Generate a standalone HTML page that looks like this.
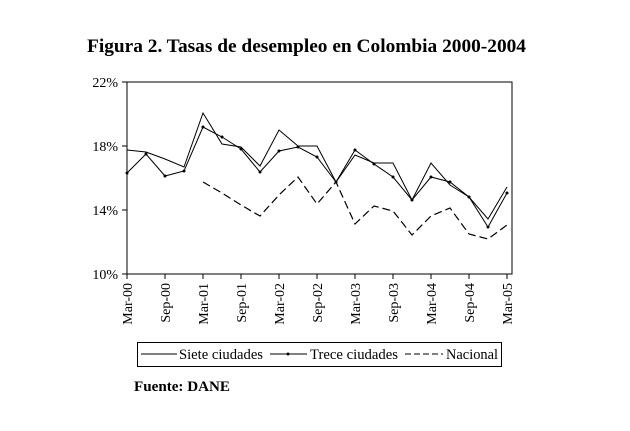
<!DOCTYPE html>
<html><head><meta charset="utf-8"><style>
body{margin:0;background:#fff;width:630px;height:431px;overflow:hidden}
svg{display:block}
text{font-family:"Liberation Serif",serif;fill:#000}
</style></head><body>
<svg width="630" height="431" viewBox="0 0 630 431">
<text x="87" y="52" font-size="19" font-weight="bold" textLength="439" lengthAdjust="spacingAndGlyphs">Figura 2. Tasas de desempleo en Colombia 2000-2004</text>
<g stroke="#000" stroke-width="1" fill="none">
<rect x="127" y="82" width="385" height="192"/>
<line x1="122" y1="82" x2="127" y2="82"/>
<line x1="122" y1="146" x2="127" y2="146"/>
<line x1="122" y1="210" x2="127" y2="210"/>
<line x1="122" y1="274" x2="127" y2="274"/>
<path d="M127 274v5M165 274v5M203 274v5M241 274v5M279 274v5M317 274v5M355 274v5M393 274v5M431 274v5M469 274v5M507 274v5"/>
</g>
<g font-size="14" text-anchor="end">
<text x="118" y="87">22%</text><text x="118" y="151">18%</text><text x="118" y="215">14%</text><text x="118" y="279">10%</text>
</g>
<g font-size="14" text-anchor="end">
<text transform="translate(132,283) rotate(-90)">Mar-00</text>
<text transform="translate(170,283) rotate(-90)">Sep-00</text>
<text transform="translate(208,283) rotate(-90)">Mar-01</text>
<text transform="translate(246,283) rotate(-90)">Sep-01</text>
<text transform="translate(284,283) rotate(-90)">Mar-02</text>
<text transform="translate(322,283) rotate(-90)">Sep-02</text>
<text transform="translate(360,283) rotate(-90)">Mar-03</text>
<text transform="translate(398,283) rotate(-90)">Sep-03</text>
<text transform="translate(436,283) rotate(-90)">Mar-04</text>
<text transform="translate(474,283) rotate(-90)">Sep-04</text>
<text transform="translate(512,283) rotate(-90)">Mar-05</text>
</g>
<g fill="none" stroke="#000" stroke-width="1">
<polyline points="127,150 146,152 165,159 184,167 203,113 222,144 241,147 260,166 279,130 298,146 317,146 336,182 355,155 374,163 393,163 412,200 431,163 450,185 469,197 488,219 507,187"/>
<polyline points="127,173 146,154 165,176 184,171 203,127 222,137 241,149 260,172 279,151 298,147 317,157 336,182 355,150 374,164 393,177 412,200 431,177 450,182 469,197 488,227 507,193"/>
<polyline stroke-dasharray="8,4" stroke-width="1.2" points="203,182 222,193 241,205 260,216 279,195 298,177 317,204 336,182 355,224 374,206 393,211 412,235 431,216 450,208 469,234 488,239 507,225"/>
</g>
<g fill="#000">
<circle cx="127" cy="173" r="1.5"/><circle cx="146" cy="154" r="1.5"/><circle cx="165" cy="176" r="1.5"/><circle cx="184" cy="171" r="1.5"/><circle cx="203" cy="127" r="1.5"/><circle cx="222" cy="137" r="1.5"/><circle cx="241" cy="149" r="1.5"/><circle cx="260" cy="172" r="1.5"/><circle cx="279" cy="151" r="1.5"/><circle cx="298" cy="147" r="1.5"/><circle cx="317" cy="157" r="1.5"/><circle cx="336" cy="182" r="1.5"/><circle cx="355" cy="150" r="1.5"/><circle cx="374" cy="164" r="1.5"/><circle cx="393" cy="177" r="1.5"/><circle cx="412" cy="200" r="1.5"/><circle cx="431" cy="177" r="1.5"/><circle cx="450" cy="182" r="1.5"/><circle cx="469" cy="197" r="1.5"/><circle cx="488" cy="227" r="1.5"/><circle cx="507" cy="193" r="1.5"/>
</g>
<rect x="137.5" y="342.5" width="364" height="24" fill="none" stroke="#000"/>
<g stroke="#000" fill="none">
<line x1="141" y1="354" x2="177" y2="354"/>
<line x1="270" y1="354" x2="307" y2="354"/>
<line x1="405" y1="354" x2="443" y2="354" stroke-dasharray="6,3"/>
</g>
<circle cx="288" cy="354" r="1.5" fill="#000"/>
<g font-size="14.5"><text x="179" y="359" textLength="84" lengthAdjust="spacingAndGlyphs">Siete ciudades</text><text x="310" y="359" textLength="88" lengthAdjust="spacingAndGlyphs">Trece ciudades</text><text x="446" y="359" textLength="52" lengthAdjust="spacingAndGlyphs">Nacional</text></g>
<text x="134" y="391" font-size="15" font-weight="bold" textLength="96" lengthAdjust="spacingAndGlyphs">Fuente: DANE</text>
</svg>
</body></html>
